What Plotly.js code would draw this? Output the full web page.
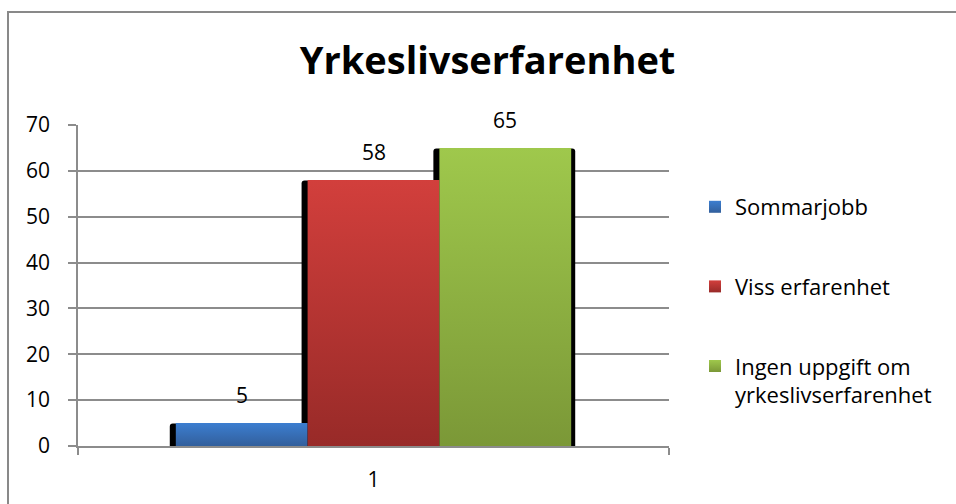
<!DOCTYPE html>
<html>
<head>
<meta charset="utf-8">
<script src="https://cdn.plot.ly/plotly-3.0.1.min.js"></script>
<style>
  body { margin: 0; background: #fff; }
  #frame { position: absolute; left: 7px; top: 11px; width: 1000px; height: 600px; border: 2px solid #898989; }
  #plotArea { position: absolute; left: 0; top: 0; width: 956px; height: 504px; }
</style>
</head>
<body>
<div id="frame"></div>
<div id="plotArea"></div>
<script>
// Chart data
var categories = ["1"];
var seriesNames = ["Sommarjobb", "Viss erfarenhet", "Ingen uppgift om<br>yrkeslivserfarenhet"];
var seriesValues = [5, 58, 65];
var yTicks = [0, 10, 20, 30, 40, 50, 60, 70];

// gradient colours, top -> bottom
var topColors = ["#3c7ed0", "#d23f3c", "#9fc84c"];
var bottomColors = ["#325f9c", "#982a28", "#7b9837"];
var midColors = ["#3870b8", "#b83634", "#8eb142"];

var barWidth = 0.223;
var offsets = [-0.3345, -0.1115, 0.1115];

var traces = [];

// black shadow behind each bar
seriesValues.forEach(function(v, i) {
    traces.push({
        x: categories,
        y: [v + 0.6],
        base: -0.7,
        type: "bar",
        width: barWidth + 0.017,
        offset: offsets[i] - 0.0102,
        marker: {color: "#000", cornerradius: 3},
        showlegend: false,
        hoverinfo: "skip",
        cliponaxis: false
    });
});

seriesValues.forEach(function(v, i) {
    traces.push({
        x: categories,
        y: [v],
        type: "bar",
        name: seriesNames[i],
        legendgroup: "g" + i,
        width: barWidth,
        offset: offsets[i],
        marker: {color: midColors[i]}
    });
});

// value labels above the bars
var labels = seriesValues.map(function(v, i) {
    return {
        x: offsets[i] + barWidth / 2,
        y: v,
        text: String(v),
        showarrow: false,
        yanchor: "middle",
        yshift: 28,
        font: {size: 21, color: "#000"}
    };
});

var layout = {
    width: 956,
    height: 504,
    paper_bgcolor: "rgba(0,0,0,0)",
    plot_bgcolor: "rgba(0,0,0,0)",
    font: {family: "Open Sans, sans-serif", size: 21, color: "#000"},
    margin: {l: 78, r: 287, t: 125, b: 58},
    barmode: "overlay",
    title: {
        text: "<b>Yrkeslivserfarenhet</b>",
        font: {size: 38, color: "#000"},
        xref: "container", x: 0.51, xanchor: "center",
        yref: "container", y: 0.88, yanchor: "middle"
    },
    xaxis: {
        type: "category",
        range: [-0.5, 0.5],
        showline: true, linecolor: "#8c8c8c", linewidth: 1.5,
        ticks: "outside", tickson: "boundaries", ticklen: 7, tickcolor: "#8c8c8c", tickwidth: 1.5,
        ticklabelstandoff: 14,
        showgrid: false
    },
    yaxis: {
        range: [0, 70],
        tickvals: yTicks,
        showline: true, linecolor: "#8c8c8c", linewidth: 1.5,
        ticks: "outside", ticklen: 8, tickcolor: "#8c8c8c", tickwidth: 1.5,
        ticklabelstandoff: 14,
        showgrid: true, gridcolor: "#8c8c8c", gridwidth: 1.5,
        zeroline: false
    },
    legend: {
        x: 1.044, xanchor: "left",
        y: 0.81, yanchor: "top",
        valign: "top",
        tracegroupgap: 48,
        font: {size: 22}
    },
    annotations: labels,
    showlegend: true
};

Plotly.newPlot("plotArea", traces, layout, {displayModeBar: false}).then(function(gd) {
    // add vertical gradients to the bars and legend swatches
    var svgNS = "http://www.w3.org/2000/svg";
    var svg = gd.querySelector("svg.main-svg");
    var defs = document.createElementNS(svgNS, "defs");
    topColors.forEach(function(c, i) {
        var g = document.createElementNS(svgNS, "linearGradient");
        g.setAttribute("id", "grad" + i);
        g.setAttribute("x1", "0"); g.setAttribute("y1", "0");
        g.setAttribute("x2", "0"); g.setAttribute("y2", "1");
        [[0, c], [1, bottomColors[i]]].forEach(function(s) {
            var st = document.createElementNS(svgNS, "stop");
            st.setAttribute("offset", s[0]);
            st.setAttribute("stop-color", s[1]);
            g.appendChild(st);
        });
        defs.appendChild(g);
    });
    svg.insertBefore(defs, svg.firstChild);
    var barTraces = gd.querySelectorAll(".barlayer .trace");
    for (var i = 0; i < 3; i++) {
        barTraces[i + 3].querySelectorAll("path").forEach(function(p) { p.style.fill = "url(#grad" + i + ")"; });
    }
    var legendTraces = gd.querySelectorAll(".legend .traces");
    legendTraces.forEach(function(t, i) {
        t.querySelectorAll(".legendpoints path").forEach(function(p) { p.style.fill = "url(#grad" + i + ")"; });
    });
});
</script>
</body>
</html>
